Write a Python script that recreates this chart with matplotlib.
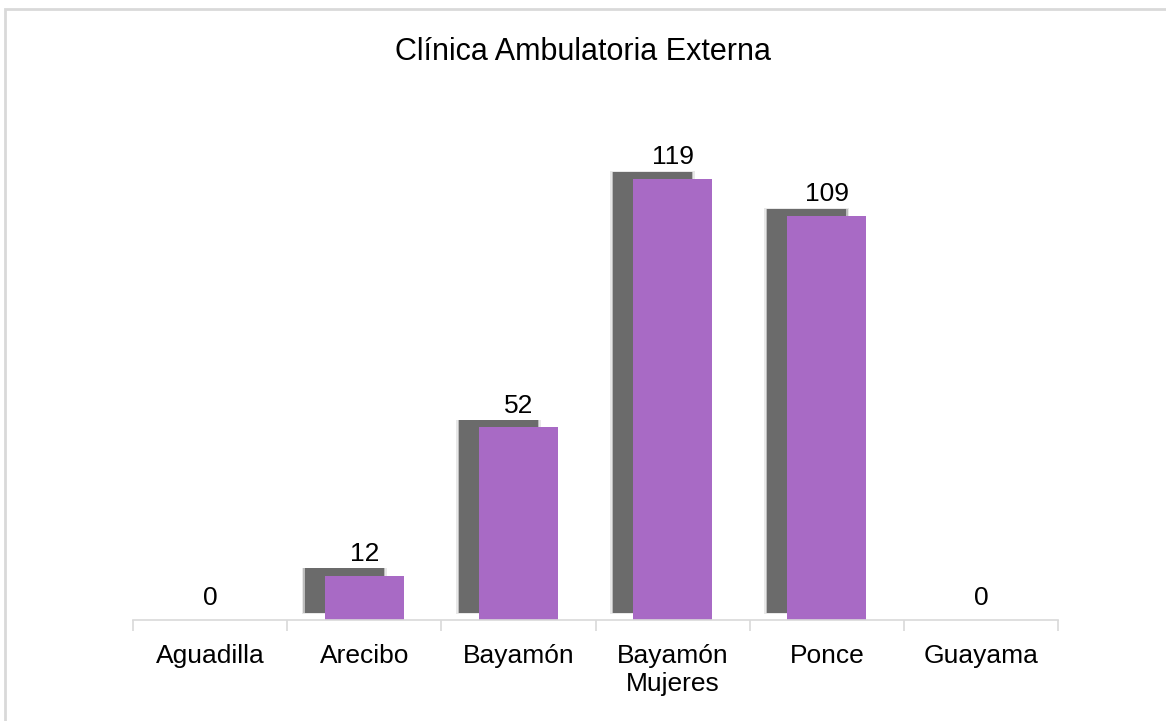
import matplotlib.pyplot as plt
import numpy as np
from matplotlib.patches import Rectangle

plt.rcParams['font.family'] = ['Liberation Sans', 'DejaVu Sans']

# data
categorias = ["Aguadilla", "Arecibo", "Bayamón", "Bayamón\nMujeres", "Ponce", "Guayama"]
valores = [0, 12, 52, 119, 109, 0]
titulo = "Clínica Ambulatoria Externa"

color_barra = "#a86ac5"
color_sombra = "#6b6b6b"
color_eje = "#d9d9d9"

fig = plt.figure(figsize=(11.66, 7.21), dpi=100)
fig.patches.append(Rectangle((5 / 1166, -0.1), 1.2, (721 - 9) / 721 + 0.1,
                             transform=fig.transFigure, fill=False,
                             edgecolor=color_eje, linewidth=2))

ax = fig.add_axes([133 / 1166, 101 / 721, 925 / 1166, 519 / 721])
x = np.arange(len(categorias))
vals = np.array(valores)
ancho = 0.51

# sombra desplazada hacia arriba a la izquierda (difuminada con capas)
dx, dy = -0.13, 1.9
m = vals > 0
for grow, a in [(0.02, 0.15), (0.01, 0.35), (0.0, 1.0)]:
    ax.bar(x[m] + dx, vals[m] + 2 * grow * 8, width=ancho + 2 * grow,
           bottom=dy - grow * 8, color=color_sombra, alpha=a, linewidth=0, zorder=1)

ax.bar(x, vals, width=ancho, color=color_barra, linewidth=0, zorder=2)

for xi, v in zip(x, vals):
    ax.annotate(str(v), (xi, v), xytext=(0, 7), textcoords="offset points",
                ha="center", va="bottom", fontsize=19, color="#000000")

ax.set_xlim(-0.5, len(categorias) - 0.5)
ax.set_ylim(0, 140)
ax.set_yticks([])
ax.set_xticks(x)
ax.set_xticklabels(categorias, fontsize=19, linespacing=1.25)
ax.set_xticks(np.arange(-0.5, len(categorias), 1), minor=True)
ax.tick_params(axis="x", which="major", length=0, pad=17)
ax.tick_params(axis="x", which="minor", length=8, width=1.2, color=color_eje)
for s in ["top", "right", "left"]:
    ax.spines[s].set_visible(False)
ax.spines["bottom"].set_color(color_eje)
ax.spines["bottom"].set_linewidth(1.2)
ax.patch.set_visible(False)

fig.text(0.5, 1 - 52 / 721, titulo, ha="center", va="center", fontsize=22)

fig.savefig("out.png", dpi=100)
